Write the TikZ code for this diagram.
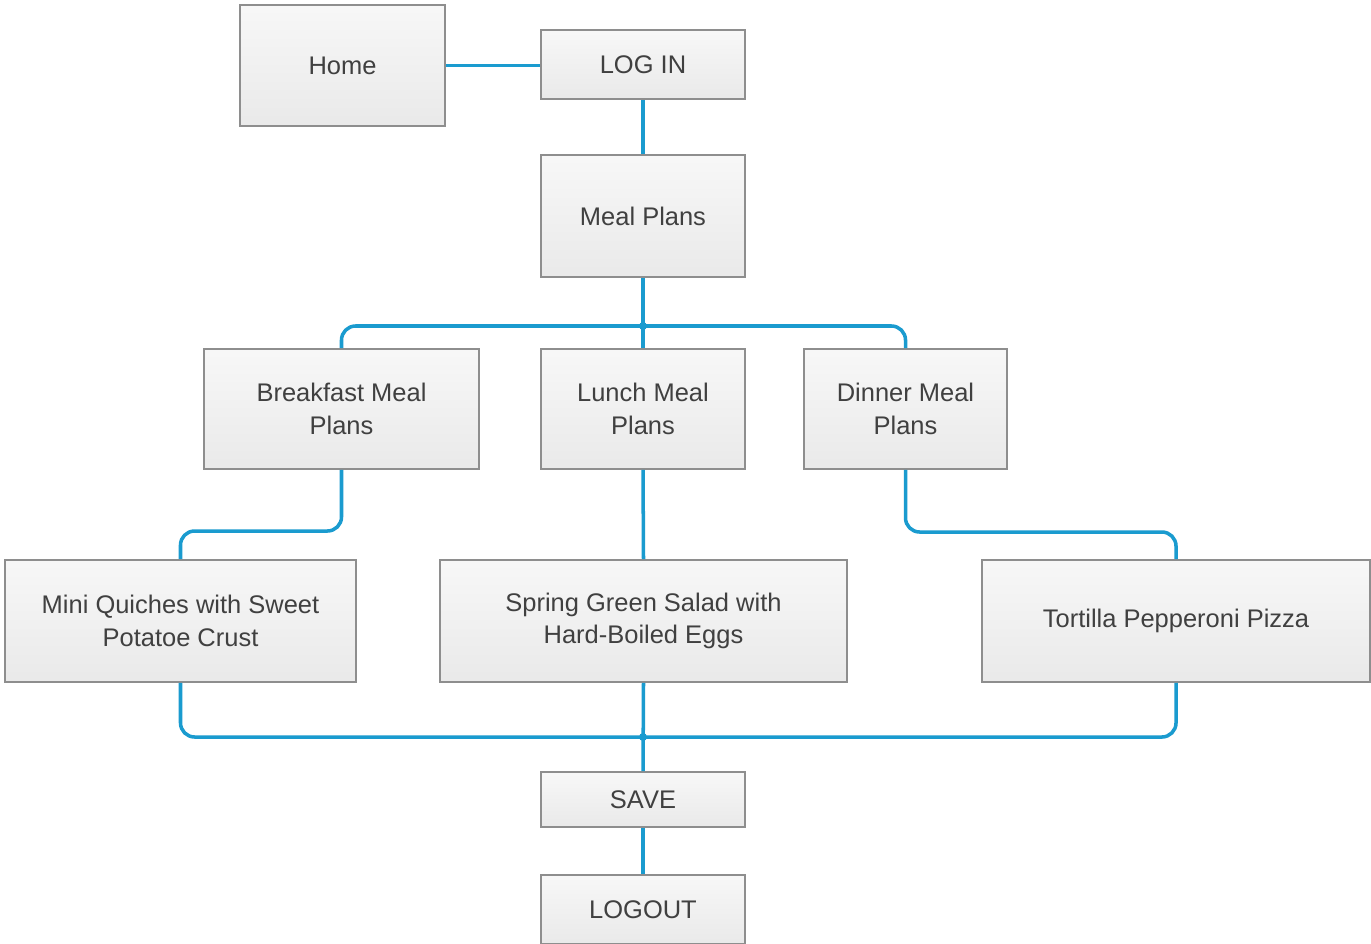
\documentclass[tikz,border=0pt]{standalone}
\usepackage{fontspec}
\setmainfont{Liberation Sans}
\definecolor{conn}{HTML}{1A9BCF}
\definecolor{boxline}{HTML}{8E8E8E}
\definecolor{txt}{HTML}{404040}
\begin{document}
\begin{tikzpicture}[x=0.02cm,y=-0.02cm,
  box/.style={draw=boxline,line width=1pt,top color=gray!6,bottom color=gray!17,
    inner sep=0pt,align=center,text=txt,font=\fontsize{14.5}{18.5}\selectfont},
  link/.style={draw=conn,line width=2pt,rounded corners=8pt},
  dot/.style={circle,fill=conn,inner sep=0pt,minimum size=4.5pt}]
\useasboundingbox (0,0) rectangle (1371,943);
\fill[white] (0,0) rectangle (1371,943);
\node[box,minimum width=205*0.02cm,minimum height=121*0.02cm] (home) at (342.5,65.5) {Home};
\node[box,minimum width=204*0.02cm,minimum height=69*0.02cm] (login) at (643,64.5) {LOG IN};
\node[box,minimum width=204*0.02cm,minimum height=122*0.02cm] (meal) at (643,216) {Meal Plans};
\node[box,minimum width=275*0.02cm,minimum height=120*0.02cm] (brk) at (341.5,409) {Breakfast Meal\\Plans};
\node[box,minimum width=204*0.02cm,minimum height=120*0.02cm] (lun) at (643,409) {Lunch Meal\\Plans};
\node[box,minimum width=203*0.02cm,minimum height=120*0.02cm] (din) at (905.5,409) {Dinner Meal\\Plans};
\node[box,minimum width=351*0.02cm,minimum height=122*0.02cm] (mini) at (180.5,621) {Mini Quiches with Sweet\\Potatoe Crust};
\node[box,minimum width=407*0.02cm,minimum height=122*0.02cm] (spr) at (643.5,621) {Spring Green Salad with\\Hard-Boiled Eggs};
\node[box,minimum width=388*0.02cm,minimum height=122*0.02cm] (tor) at (1176,621) {Tortilla Pepperoni Pizza};
\node[box,minimum width=204*0.02cm,minimum height=55*0.02cm] (save) at (643,799.5) {SAVE};
\node[box,minimum width=204*0.02cm,minimum height=69*0.02cm] (logout) at (643,909.5) {LOGOUT};
\coordinate (j1) at (643,326);
\coordinate (j2) at (643,737);
\coordinate (yb) at (0,531);
\coordinate (yd) at (0,532);
\draw[link] (home.east) -- (home.east -| login.west);
\draw[link] (login.south) -- (meal.north);
\draw[link] (meal.south) -- (lun.north);
\draw[link] (brk.north) |- (j1) -| (din.north);
\draw[link] (brk.south) -- (brk.south |- yb) -| (mini.north);
\draw[link] (lun.south) -- (spr.north);
\draw[link] (din.south) -- (din.south |- yd) -| (tor.north);
\draw[link] (mini.south) |- (j2) -| (tor.south);
\draw[link] (spr.south) -- (save.north);
\draw[link] (save.south) -- (logout.north);
\node[dot] (d1) at (j1) {};
\node[dot] (d2) at (j2) {};
\end{tikzpicture}
\end{document}
